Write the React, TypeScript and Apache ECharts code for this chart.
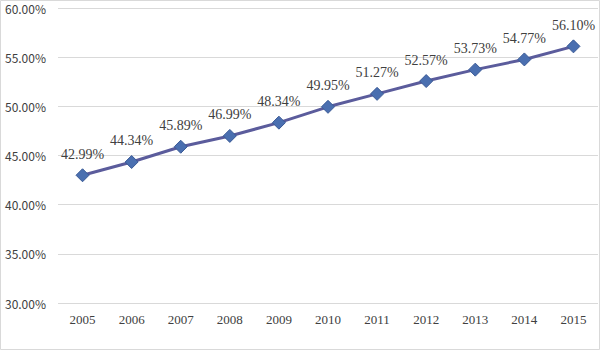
import React, { useEffect, useRef } from "react";
import * as echarts from "echarts";

const years = ["2005", "2006", "2007", "2008", "2009", "2010", "2011", "2012", "2013", "2014", "2015"];
const rates = [42.99, 44.34, 45.89, 46.99, 48.34, 49.95, 51.27, 52.57, 53.73, 54.77, 56.1];

export default function App() {
  const ref = useRef<HTMLDivElement>(null);
  useEffect(() => {
    const chart = echarts.init(ref.current!, null, { renderer: "svg" });
    chart.setOption({
      animation: false,
      backgroundColor: "#ffffff",
      graphic: [
        {
          type: "rect",
          shape: { x: 0.5, y: 0.5, width: 599, height: 349 },
          style: { fill: "none", stroke: "#d9d9d9", lineWidth: 1 },
          silent: true,
        },
      ],
      grid: { left: 58, right: 2, top: 8, bottom: 48, containLabel: false },
      xAxis: {
        type: "category",
        data: years,
        boundaryGap: true,
        axisLine: { show: false },
        axisTick: { show: false },
        axisLabel: {
          color: "#404040",
          fontSize: 13,
          fontFamily: "Liberation Serif, DejaVu Serif, serif",
          margin: 10,
        },
      },
      yAxis: {
        type: "value",
        min: 30,
        max: 60,
        interval: 5,
        axisLine: { show: false },
        axisTick: { show: false },
        splitLine: { lineStyle: { color: "#d9d9d9", width: 1 } },
        axisLabel: {
          color: "#404040",
          fontSize: 12,
          fontFamily: "Noto Sans CJK SC, sans-serif",
          margin: 12,
          formatter: (v: number) => v.toFixed(2) + "%",
        },
      },
      series: [
        {
          type: "line",
          data: rates,
          symbol: "diamond",
          symbolSize: 13,
          lineStyle: { color: "#5B5C9C", width: 3 },
          itemStyle: { color: "#4A6FB0", borderColor: "#3A5A96", borderWidth: 1 },
          label: {
            show: true,
            position: "top",
            distance: 7,
            color: "#404040",
            fontSize: 14,
            fontFamily: "Liberation Serif, DejaVu Serif, serif",
            formatter: (p: any) => p.value.toFixed(2) + "%",
          },
        },
      ],
    });
    return () => chart.dispose();
  }, []);
  return <div ref={ref} style={{ width: 600, height: 351, position: "absolute", left: 0, top: 0 }} />;
}
